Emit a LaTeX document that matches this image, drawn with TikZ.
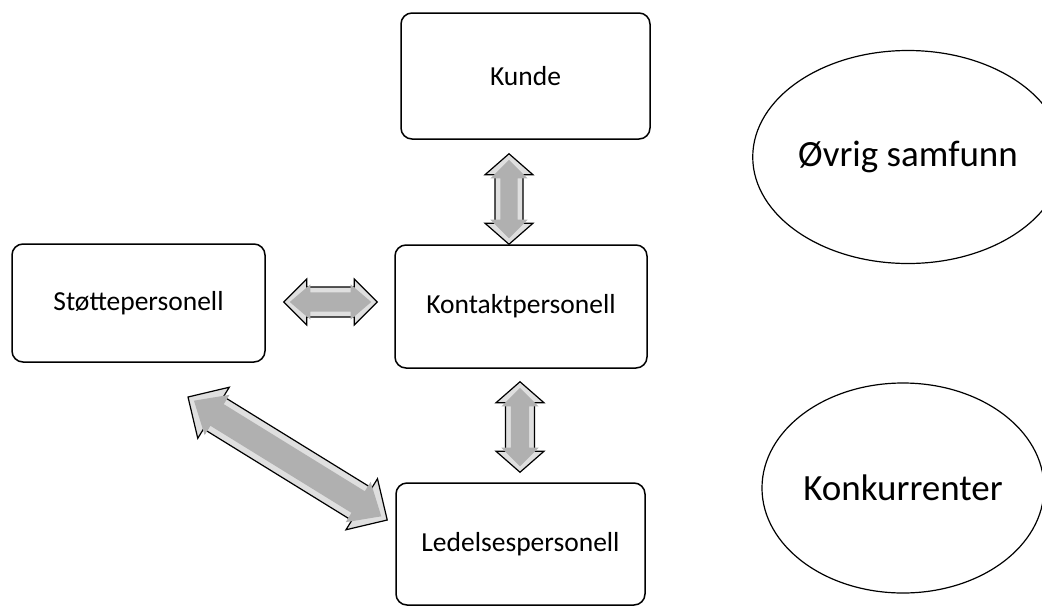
\documentclass[tikz,border=0pt]{standalone}
\usepackage{fontspec}
\setmainfont{Carlito}
\usetikzlibrary{calc,shapes.geometric}
\tikzset{
  box/.style={draw=black, line width=1.5pt, rounded corners=11pt, fill=white,
    inner sep=0pt, font=\fontsize{27.5}{33}\selectfont},
  oval/.style={draw=black, line width=1.2pt, ellipse, inner sep=0pt,
    font=\fontsize{37}{44}\selectfont},
  fatarrow/.style={draw=black, line width=1.2pt, fill=gray!25, line join=miter},
  fatarrowcore/.style={fill=gray!62, draw=none}
}
\newcommand{\arrowpoly}[6]{%
  \path[#1] (#2)
    -- ($(#2)!#4!(#3)!#5!90:(#3)$)
    -- ($(#2)!#4!(#3)!#6!90:(#3)$)
    -- ($(#3)!#4!(#2)!#6!-90:(#2)$)
    -- ($(#3)!#4!(#2)!#5!-90:(#2)$)
    -- (#3)
    -- ($(#3)!#4!(#2)!#5!90:(#2)$)
    -- ($(#3)!#4!(#2)!#6!90:(#2)$)
    -- ($(#2)!#4!(#3)!#6!-90:(#3)$)
    -- ($(#2)!#4!(#3)!#5!-90:(#3)$)
    -- cycle;}
% #1,#2 end points; #3 head length; #4 head half width; #5 shaft half width; #6 inset
\newcommand{\dblarrow}[6]{%
  \arrowpoly{fatarrow}{#1}{#2}{#3}{#4}{#5}%
  \coordinate (ia) at ($(#1)!#6!(#2)$);
  \coordinate (ib) at ($(#2)!#6!(#1)$);
  \arrowpoly{fatarrowcore}{ia}{ib}{#3-#6*0.4}{#4-#6*0.9}{#5-#6*0.9}}
\begin{document}
\begin{tikzpicture}[x=1pt, y=-1pt]
\useasboundingbox (0,0) rectangle (1042,606);
% boxes
\node[box, minimum width=249pt, minimum height=126pt] (kunde) at (525.5,76) {Kunde};
\node[box, minimum width=252pt, minimum height=123pt] (kontakt) at (521,306.5) {Kontaktpersonell};
\node[box, minimum width=253pt, minimum height=118pt] (stotte) at (138.5,303) {Støttepersonell};
\node[box, minimum width=249pt, minimum height=122pt] (ledelse) at (520.5,544) {Ledelsespersonell};
% ellipses
\node[oval, minimum width=263pt, minimum height=213pt] (samfunn) at (908,157) {Øvrig samfunn};
\node[oval, minimum width=274pt, minimum height=210pt] (konk) at (903,488) {Konkurrenter};
% arrow end points
\coordinate (k1) at ($(kunde.south)+(-16.5,14)$);
\coordinate (k2) at ($(kontakt.north)+(-12,0)$);
\coordinate (h1) at ($(stotte.east)+(18,-1)$);
\coordinate (h2) at ($(kontakt.west)+(-17,-4.5)$);
\coordinate (v1) at ($(kontakt.south)+(-1,13)$);
\coordinate (v2) at ($(ledelse.north)+(-0.5,-10)$);
\coordinate (d1) at (188,397);
\coordinate (d2) at ($(ledelse.west)+(-8,-24)$);
% arrows
\dblarrow{k1}{k2}{21pt}{24pt}{14pt}{6pt}
\dblarrow{h1}{h2}{23pt}{23pt}{15pt}{6pt}
\dblarrow{v1}{v2}{21pt}{24pt}{14.5pt}{6pt}
\dblarrow{d1}{d2}{30pt}{30pt}{19pt}{7pt}
\end{tikzpicture}
\end{document}
